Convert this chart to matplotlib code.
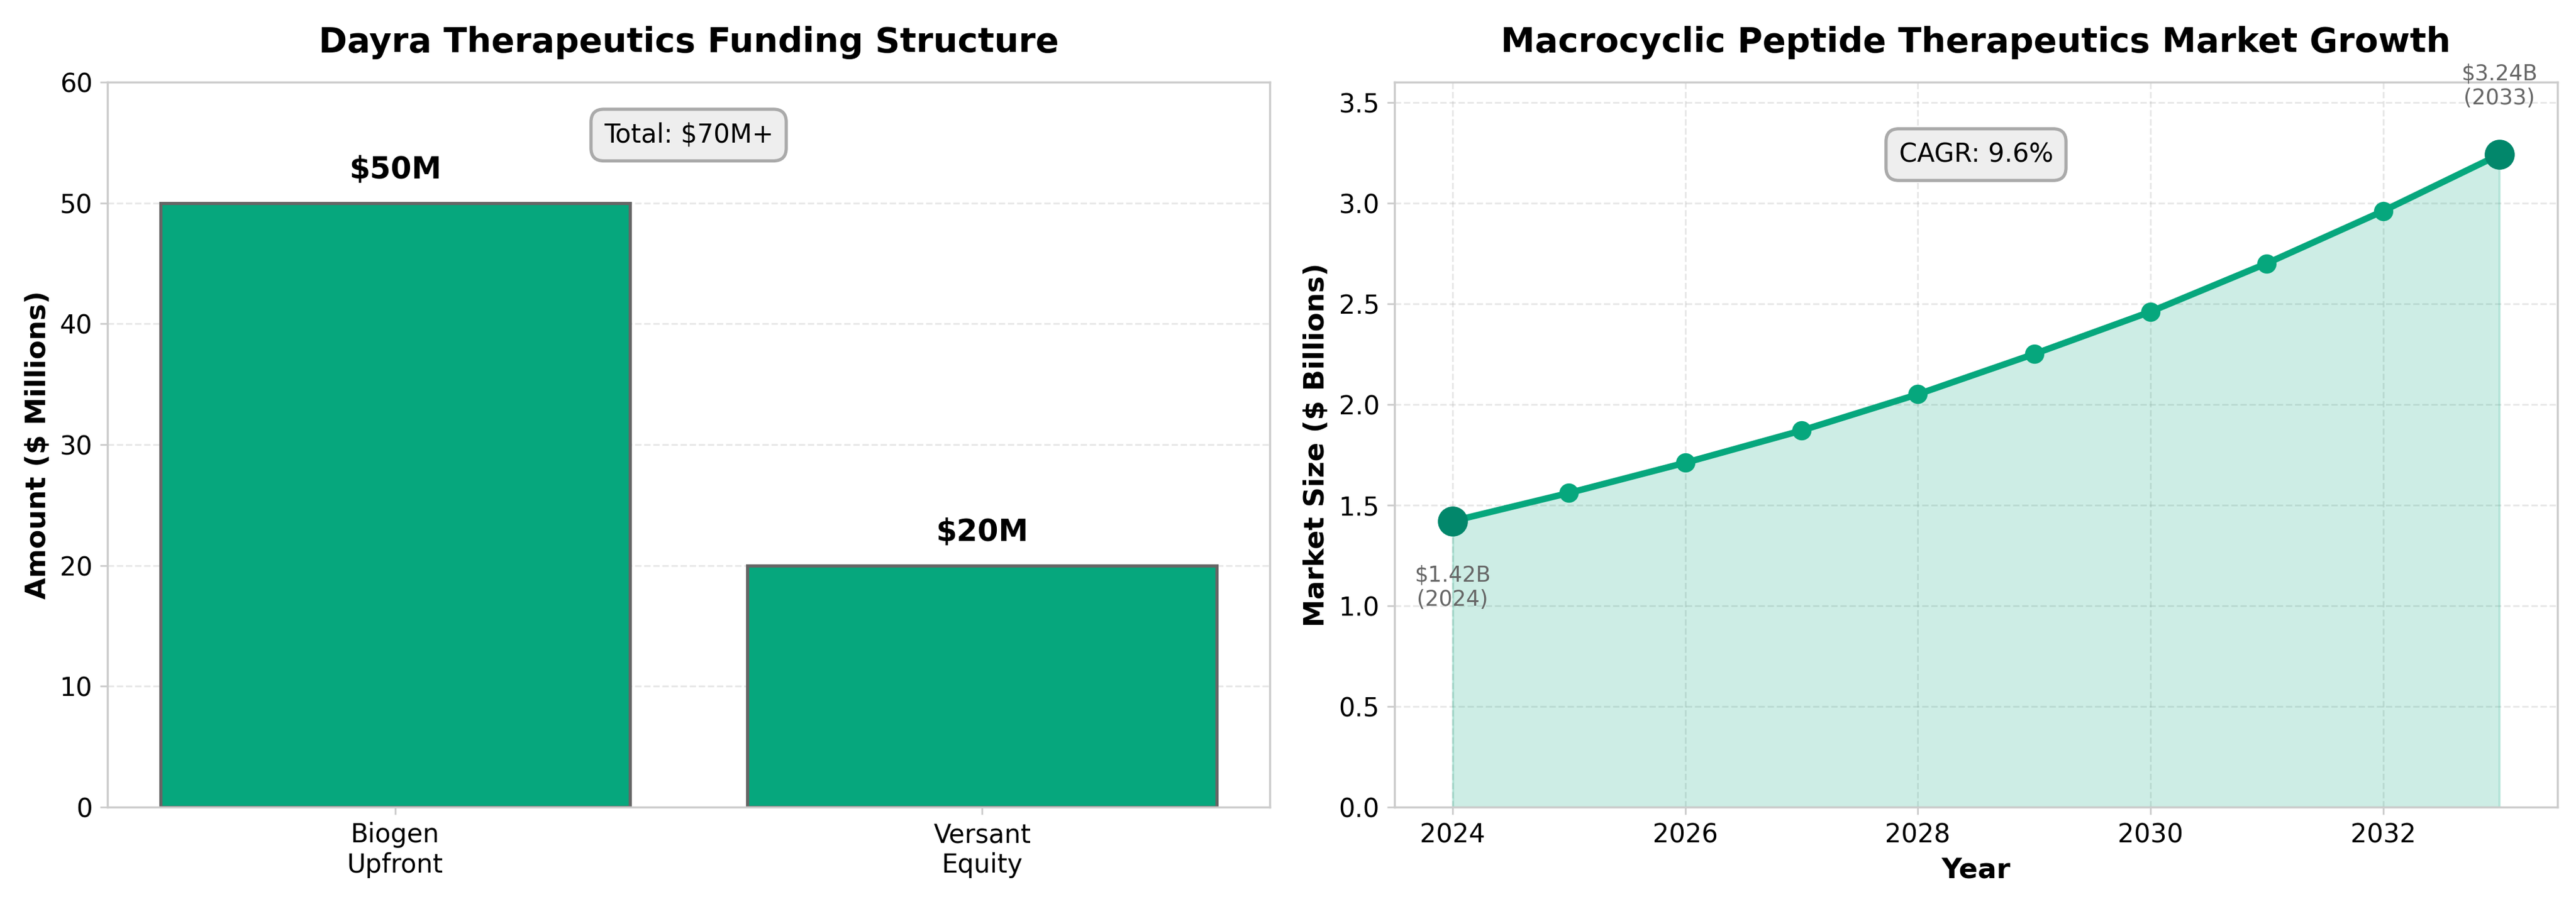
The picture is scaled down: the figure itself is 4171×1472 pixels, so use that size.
import matplotlib
matplotlib.use("Agg")
import matplotlib.pyplot as plt

# funding data ($M)
sources = ["Biogen\nUpfront", "Versant\nEquity"]
amounts = [50, 20]

# market size ($B)
years = [2024, 2025, 2026, 2027, 2028, 2029, 2030, 2031, 2032, 2033]
market = [1.42, 1.56, 1.71, 1.87, 2.05, 2.25, 2.46, 2.70, 2.96, 3.24]

GREEN = "#06A77D"
DARK = "#02876B"
SPINE = "#cccccc"

W, H, DPI = 4171, 1472, 250
fig = plt.figure(figsize=(W / DPI, H / DPI), dpi=DPI)
ax1 = fig.add_axes([174 / W, 165 / H, 1882 / W, 1174 / H])
ax2 = fig.add_axes([2258 / W, 165 / H, 1883 / W, 1174 / H])


def style(ax):
    for s in ax.spines.values():
        s.set_color(SPINE)
        s.set_linewidth(1.0)
    ax.tick_params(color=SPINE, labelcolor="black", labelsize=12)
    ax.set_axisbelow(True)


# left: funding bars
style(ax1)
ax1.grid(axis="y", linestyle="--", alpha=0.3)
bars = ax1.bar(range(len(sources)), amounts, width=0.8, color=GREEN,
               edgecolor="#666666", linewidth=1.5)
for b, v in zip(bars, amounts):
    ax1.text(b.get_x() + b.get_width() / 2, v + 1.5, f"${v}M",
             ha="center", va="bottom", fontsize=14, fontweight="bold")
ax1.set_xticks(range(len(sources)))
ax1.set_xticklabels(sources)
ax1.set_ylim(0, 60)
ax1.set_ylabel("Amount ($ Millions)", fontsize=13, fontweight="bold")
ax1.set_title("Dayra Therapeutics Funding Structure", fontsize=16,
              fontweight="bold", pad=14)
ax1.text(0.5, 0.927, "Total: $70M+", transform=ax1.transAxes, ha="center",
         va="center", fontsize=12,
         bbox=dict(boxstyle="round,pad=0.5", facecolor="#eeeeee",
                   edgecolor="#aaaaaa", linewidth=1.5))

# right: market growth
style(ax2)
ax2.grid(True, linestyle="--", alpha=0.3)
ax2.fill_between(years, market, color=GREEN, alpha=0.2)
ax2.plot(years, market, color=GREEN, linewidth=3, marker="o", markersize=8)
ax2.plot([years[0], years[-1]], [market[0], market[-1]], "o", color=DARK,
         markersize=13)
ax2.annotate(f"${market[0]:.2f}B\n({years[0]})", (years[0], market[0]),
             xytext=(0, -31), textcoords="offset points", ha="center",
             va="center", fontsize=10, color="#666666")
ax2.annotate(f"${market[-1]:.2f}B\n({years[-1]})", (years[-1], market[-1]),
             xytext=(0, 32), textcoords="offset points", ha="center",
             va="center", fontsize=10, color="#666666")
ax2.set_xlim(2023.5, 2033.5)
ax2.set_ylim(0, 3.6)
ax2.set_xlabel("Year", fontsize=13, fontweight="bold")
ax2.set_ylabel("Market Size ($ Billions)", fontsize=13, fontweight="bold")
ax2.set_title("Macrocyclic Peptide Therapeutics Market Growth", fontsize=16,
              fontweight="bold", pad=14)
ax2.text(0.5, 0.9, "CAGR: 9.6%", transform=ax2.transAxes, ha="center",
         va="center", fontsize=12,
         bbox=dict(boxstyle="round,pad=0.5", facecolor="#eeeeee",
                   edgecolor="#aaaaaa", linewidth=1.5))

fig.savefig("out.png", dpi=DPI, facecolor="white")
